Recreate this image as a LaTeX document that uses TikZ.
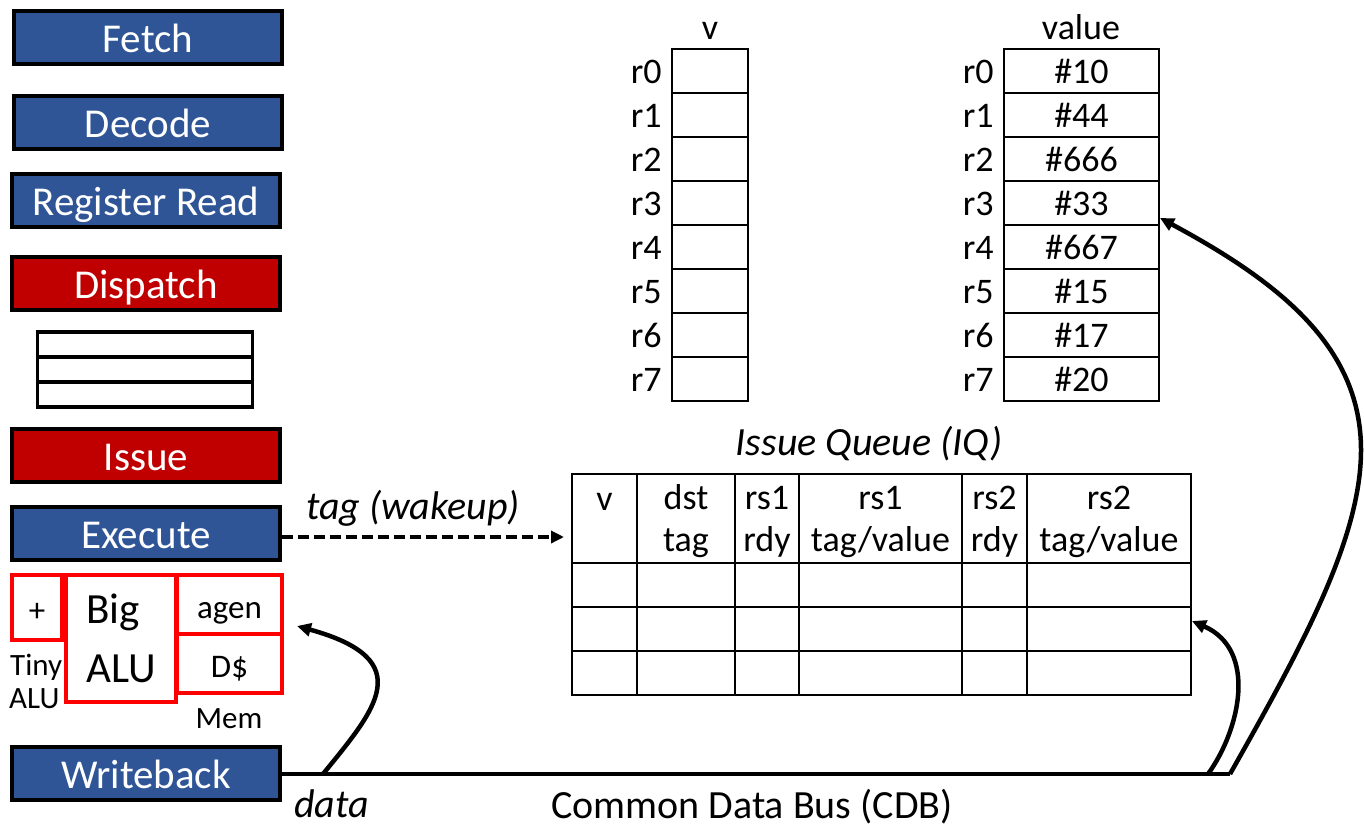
\documentclass[tikz,border=0pt]{standalone}
\usepackage{fontspec}
\setmainfont{Carlito}
\usetikzlibrary{arrows.meta}
\definecolor{stblue}{HTML}{2F5597}
\definecolor{stred}{HTML}{C00000}
\definecolor{alured}{HTML}{FF0000}
\newcommand\hs{\rule[-5pt]{0pt}{35pt}}
\begin{document}
\begin{tikzpicture}[x=1pt,y=-1pt,
  stagebox/.style={draw=black, line width=4pt, minimum width=268pt, minimum height=53pt, inner sep=0pt, text=white, font=\fontsize{41}{49}\selectfont, text height=34pt, text depth=4pt},
  bluest/.style={stagebox, fill=stblue},
  redst/.style={stagebox, fill=stred},
  qrow/.style={draw=black, line width=3.5pt, minimum width=215pt, minimum height=25pt, inner sep=0pt},
  alubox/.style={draw=alured, line width=3.5pt, inner sep=0pt, font=\fontsize{33}{40}\selectfont, text height=30pt, text depth=3pt},
  bigalu/.style={draw=alured, line width=3.5pt, inner sep=0pt, align=left, font=\fontsize{43}{59}\selectfont},
  lbl/.style={font=\fontsize{31}{37}\selectfont, inner sep=0pt},
  regcell/.style={draw=black, line width=2.5pt, minimum height=44pt, inner sep=0pt, font=\fontsize{36}{43}\selectfont, text height=28pt, text depth=4pt},
  rlbl/.style={font=\fontsize{36}{43}\selectfont, inner sep=0pt, text height=28pt, text depth=4pt, anchor=east},
  hdr/.style={font=\fontsize{36}{43}\selectfont, inner sep=0pt},
  iqcell/.style={draw=black, line width=2.5pt, inner sep=0pt},
  iqhead/.style={iqcell, align=center, font=\fontsize{36}{42}\selectfont},
  ital/.style={font=\fontsize{40}{48}\selectfont\itshape, inner sep=0pt},
  plain/.style={font=\fontsize{40}{48}\selectfont, inner sep=0pt},
  conn/.style={line width=4.5pt, -{Triangle[length=14pt,width=13pt]}},
  dashconn/.style={line width=4pt, dash pattern=on 11pt off 5pt, -{Triangle[length=13pt,width=12pt]}}
]
\fill[white] (0,0) rectangle (1364,827);
\useasboundingbox (0,0) rectangle (1364,827);

% pipeline stages
\node[bluest] (fetch) at (148,37.5) {Fetch};
\node[bluest] (decode) at (148,122.5) {Decode};
\node[bluest] (rr) at (146,200.5) {Register Read};
\node[redst] (disp) at (146,283) {Dispatch};
\node[qrow] (q1) at (145,344.5) {};
\node[qrow] (q2) at (145,369.5) {};
\node[qrow] (q3) at (145,394.5) {};
\node[redst] (issue) at (146,455.5) {Issue};
\node[bluest] (ex) at (146,533) {Execute};
\node[bluest] (wb) at (146,773) {Writeback};

% functional units
\node[alubox, minimum width=50pt, minimum height=65pt] (plus) at (37,607.5) {+};
\node[bigalu, minimum width=110pt, minimum height=127pt] (big) at (121,638.5) {Big\\ALU};
\node[alubox, minimum width=105pt, minimum height=59pt] (agen) at (229.5,604.5) {agen};
\node[alubox, minimum width=105pt, minimum height=59pt] (dc) at (229.5,663.5) {D\$};
\node[lbl, anchor=base west] (tiny) at (10,675) {Tiny};
\node[lbl, anchor=base west] (tinyalu) at (9,708) {ALU};
\node[lbl, anchor=base] (mem) at (229,728) {Mem};

% register tables
\node[hdr, anchor=base] (vh) at (710,39) {v};
\node[hdr, anchor=base] (valh) at (1081,39) {value};
\foreach \i/\vv in {0/10,1/44,2/666,3/33,4/667,5/15,6/17,7/20} {
  \node[regcell, minimum width=76pt] (v\i) at (710,71+44*\i) {};
  \node[rlbl] (vl\i) at ([xshift=-9pt]v\i.west) {r\i};
  \node[regcell, minimum width=155pt] (val\i) at (1081.5,71+44*\i) {\#\vv};
  \node[rlbl] (valr\i) at ([xshift=-9pt]val\i.west) {r\i};
}

% issue queue
\node[ital, anchor=base] (iqt) at (869,455) {Issue Queue (IQ)};
\foreach \ci/\cx/\cw/\hdA/\hdB in {1/604.5/65/v/{},2/686/98/dst/tag,3/767/64/rs1/rdy,4/880.5/163/rs1/tag\slash value,5/994.5/65/rs2/rdy,6/1109/164/rs2/tag\slash value} {
  \node[iqhead, minimum width=\cw pt, minimum height=89pt] (h\ci) at (\cx,518.5) {\hs\hdA\\\hs\hdB};
  \foreach \ri/\ry in {1/585,2/629,3/673}
    \node[iqcell, minimum width=\cw pt, minimum height=44pt] (c\ci\ri) at (\cx,\ry) {};
}

% labels
\node[ital, anchor=base west] (tagl) at (306,519) {tag (wakeup)};
\node[ital, anchor=base west] (datal) at (294,817) {data};
\node[plain, anchor=base west] (cdb) at (551,818) {Common Data Bus (CDB)};

% connectors
\coordinate (b1) at (323,774);
\coordinate (b2) at (1208,774);
\coordinate (busend) at (1230,774);
\coordinate (aluin) at (297,626);
\coordinate (iqin) at (1192,621);
\coordinate (rfin) at (1160,218);
\coordinate (rfmid) at (1361,450);
\coordinate (tagend) at (564,537);

\draw[line width=4.5pt] (wb.east |- busend) -- (busend);
\draw[dashconn] ([yshift=-4pt]ex.east) -- (tagend);
\draw[conn] (b1) .. controls (375,710) and (420,660) .. (aluin);
\draw[conn] (b2) .. controls (1240,730) and (1258,650) .. (iqin);
\draw[conn] (busend) .. controls (1300,650) and (1361,540) .. (rfmid) .. controls (1361,350) and (1285,285) .. (rfin);
\end{tikzpicture}
\end{document}
